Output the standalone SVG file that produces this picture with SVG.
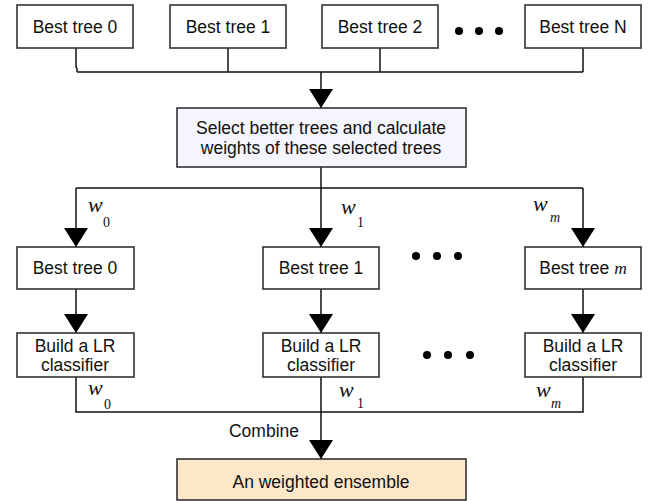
<svg xmlns="http://www.w3.org/2000/svg" width="651" height="501" viewBox="0 0 651 501">
<defs>
<marker id="ah" markerUnits="userSpaceOnUse" markerWidth="19" markerHeight="24" viewBox="0 0 19 24" refX="19" refY="12" orient="auto">
<path d="M0,0 L19,12 L0,24 Z" fill="#000"/>
</marker>
<style>
.box{fill:#fff;stroke:#333;stroke-width:1.6}
.sel{fill:#f5f5fd;stroke:#333;stroke-width:1.6}
.ens{fill:#fde7c9;stroke:#333;stroke-width:1.6}
.t{font-family:"Liberation Sans",Arial,sans-serif;font-size:17.5px;fill:#111;text-anchor:middle}
.ln{fill:none;stroke:#111;stroke-width:1.5}
.w{font-family:"Liberation Serif","Times New Roman",serif;font-style:italic;font-size:22px;fill:#111}
.s{font-family:"Liberation Serif","Times New Roman",serif;font-size:14px;fill:#111}
.si{font-family:"Liberation Serif","Times New Roman",serif;font-style:italic;font-size:14px;fill:#111}
.dot{fill:#000}
</style>
</defs>
<rect width="651" height="501" fill="#fff"/>

<g id="connectors">
<path class="ln" d="M76,48 V67 L77,69 V72 M228,48 V72 M380,48 V72 M583,48 V72 M77,72 H583"/>
<path class="ln" d="M321,72 V108" marker-end="url(#ah)"/>
<path class="ln" d="M321,167 V188 M76,188 H583"/>
<path class="ln" d="M76,188 V247" marker-end="url(#ah)"/>
<path class="ln" d="M321,188 V247" marker-end="url(#ah)"/>
<path class="ln" d="M583,188 V247" marker-end="url(#ah)"/>
<path class="ln" d="M76,289 V333" marker-end="url(#ah)"/>
<path class="ln" d="M321,289 V333" marker-end="url(#ah)"/>
<path class="ln" d="M583,289 V333" marker-end="url(#ah)"/>
<path class="ln" d="M76,377 V412 H583 V377 M321,377 V412"/>
<path class="ln" d="M321,412 V459" marker-end="url(#ah)"/>
<text class="w" x="88" y="212">w</text><text class="s" x="103" y="227">0</text>
<text class="w" x="341" y="214">w</text><text class="s" x="357" y="227">1</text>
<text class="w" x="533" y="211">w</text><text class="si" x="550" y="222">m</text>
<text class="w" x="88" y="395">w</text><text class="s" x="104" y="409">0</text>
<text class="w" x="339" y="397">w</text><text class="s" x="357" y="408">1</text>
<text class="w" x="536" y="397">w</text><text class="si" x="551" y="408">m</text>
<text class="t" x="299" y="437" style="text-anchor:end">Combine</text>
</g>

<g id="top0"><rect class="box" x="17" y="5" width="116" height="43"/><text class="t" x="75" y="33">Best tree 0</text></g>
<g id="top1"><rect class="box" x="170" y="5" width="116" height="43"/><text class="t" x="228" y="33">Best tree 1</text></g>
<g id="top2"><rect class="box" x="322" y="5" width="116" height="43"/><text class="t" x="380" y="33">Best tree 2</text></g>
<g id="topdots"><circle class="dot" cx="459" cy="31" r="4"/><circle class="dot" cx="479" cy="31" r="4"/><circle class="dot" cx="499" cy="31" r="4"/></g>
<g id="topN"><rect class="box" x="525" y="5" width="116" height="43"/><text class="t" x="583" y="33">Best tree N</text></g>

<g id="select"><rect class="sel" x="177" y="108" width="289" height="59"/>
<text class="t" x="321" y="134">Select better trees and calculate</text>
<text class="t" x="321" y="154">weights of these selected trees</text></g>

<g id="bt0"><rect class="box" x="17" y="247" width="117" height="42"/><text class="t" x="75" y="274">Best tree 0</text></g>
<g id="bt1"><rect class="box" x="263" y="247" width="116" height="42"/><text class="t" x="321" y="274">Best tree 1</text></g>
<g id="middots"><circle class="dot" cx="416" cy="256" r="4"/><circle class="dot" cx="437" cy="256" r="4"/><circle class="dot" cx="458" cy="256" r="4"/></g>
<g id="btm"><rect class="box" x="525" y="247" width="116" height="42"/><text class="t" x="583" y="274">Best tree <tspan style="font-family:'Liberation Serif','Times New Roman',serif;font-style:italic">m</tspan></text></g>

<g id="lr0"><rect class="box" x="17" y="333" width="117" height="44"/><text class="t" x="75" y="352">Build a LR</text><text class="t" x="75" y="371">classifier</text></g>
<g id="lr1"><rect class="box" x="263" y="333" width="116" height="44"/><text class="t" x="321" y="352">Build a LR</text><text class="t" x="321" y="371">classifier</text></g>
<g id="lowdots"><circle class="dot" cx="427" cy="355" r="4"/><circle class="dot" cx="448" cy="355" r="4"/><circle class="dot" cx="470" cy="355" r="4"/></g>
<g id="lrm"><rect class="box" x="525" y="333" width="116" height="44"/><text class="t" x="583" y="352">Build a LR</text><text class="t" x="583" y="371">classifier</text></g>

<g id="ensemble"><rect class="ens" x="177" y="459" width="289" height="41"/><text class="t" x="321" y="488">An weighted ensemble</text></g>
</svg>
